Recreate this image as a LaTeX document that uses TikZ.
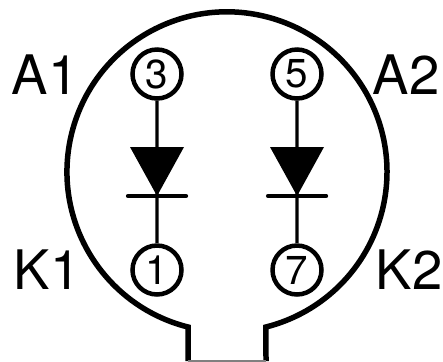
\documentclass[tikz,border=0pt]{standalone}
\usepackage{fontspec}
\setmainfont{TeX Gyre Heros}
\usepackage{tikz}
\usetikzlibrary{positioning}

\tikzset{
  pin/.style={draw, circle, line width=0.9mm, minimum size=0.98cm, inner sep=0pt, fill=white, font=\fontsize{23}{23}\selectfont},
  lead/.style={line width=0.65mm},
  bar/.style={line width=0.85mm, line cap=round},
  pinlabel/.style={inner sep=0pt, font=\fontsize{31}{31}\selectfont}
}

\begin{document}
\begin{tikzpicture}[scale=0.02]
    \useasboundingbox (0,0) rectangle (443,361);

    % Package outline
    \draw[line width=1.1mm, line join=miter] (188,0) -- (188,34) arc (255.9:-75.9:160) -- (266,0);
    \draw[line width=0.6mm, black!50] (188,0) -- (266,0);

    % Left diode
    \node[pin] (pinthree) at (157,287) {3};
    \node[pin] (pinone) at (157,91) {1};
    \coordinate (barleftA) at (128,165);
    \coordinate (barleftB) at (186,165);
    \coordinate (cathleft) at (157,165);
    \draw[lead] (pinthree) -- (pinone);
    \fill (130,214) -- (184,214) -- (cathleft) -- cycle;
    \draw[bar] (barleftA) -- (barleftB);

    % Right diode
    \node[pin] (pinfive) at (297,287) {5};
    \node[pin] (pinseven) at (297,91) {7};
    \coordinate (barrightA) at (268,165);
    \coordinate (barrightB) at (326,165);
    \coordinate (cathright) at (297,165);
    \draw[lead] (pinfive) -- (pinseven);
    \fill (270,214) -- (324,214) -- (cathright) -- cycle;
    \draw[bar] (barrightA) -- (barrightB);

    % Labels
    \node[pinlabel] (aone) at (45,286) {A1};
    \node[pinlabel] (atwo) at (406,286) {A2};
    \node[pinlabel] (kone) at (47,91) {K1};
    \node[pinlabel] (ktwo) at (409,91) {K2};
\end{tikzpicture}
\end{document}
